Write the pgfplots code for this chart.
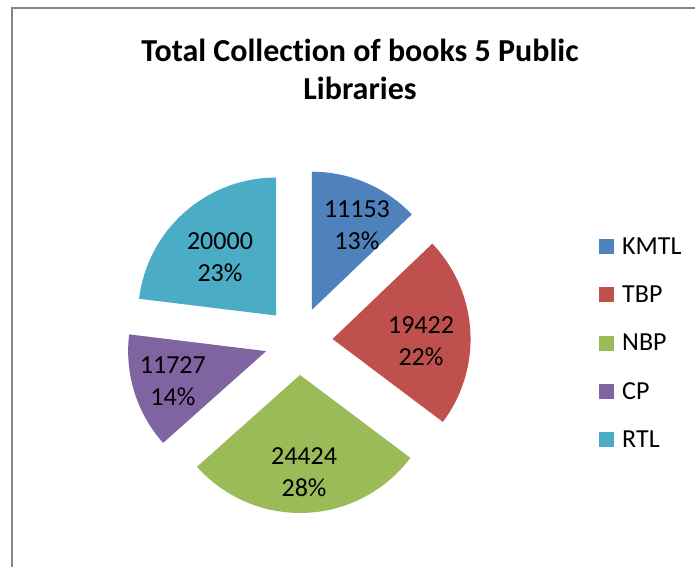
\documentclass[border=0pt]{standalone}
\usepackage{fontspec}
\setmainfont{Carlito}[Ligatures={NoCommon}]
\usepackage{pgfplots}
\usepackage{pgfplotstable}
\pgfplotsset{compat=1.18}

\definecolor{cKMTL}{HTML}{4F81BD}
\definecolor{cTBP}{HTML}{C0504D}
\definecolor{cNBP}{HTML}{9BBB59}
\definecolor{cCP}{HTML}{8064A2}
\definecolor{cRTL}{HTML}{4BACC6}
\definecolor{frame}{HTML}{868686}

\tikzset{lbl/.style={align=center, font=\fontsize{26}{32}\selectfont}}

\pgfplotstableread{
name value
KMTL 11153
TBP 19422
NBP 24424
CP 11727
RTL 20000
}\piedata

\newcommand\getval[2]{\pgfplotstablegetelem{#1}{value}\of\piedata\global\let#2\pgfplotsretval}

% pie geometry, in picture pixels
\def\cx{298.6}\def\cy{226}\def\r{138}\def\d{34}

% #1 start angle, #2 end angle, #3 colour
\newcommand\slice[3]{%
  \pgfmathsetmacro\m{(#1+#2)/2}%
  \pgfmathsetmacro\ax{\cx+\d*cos(\m)}%
  \pgfmathsetmacro\ay{\cy+\d*sin(\m)}%
  \edef\doit{\noexpand\addplot[fill=#3,draw=none,domain=#2:#1,samples=90,variable=\noexpand\t]
    ({\ax+\r*cos(\noexpand\t)},{\ay+\r*sin(\noexpand\t)}) -- (axis cs:\ax,\ay) -- cycle;}%
  \doit}

% #1 start, #2 end, #3 value, #4 distance from the slice tip, #5 angle shift
\newcommand\slicelabel[5]{%
  \pgfmathsetmacro\m{(#1+#2)/2}%
  \pgfmathsetmacro\lx{\cx+\d*cos(\m)+#4*cos(\m+#5)}%
  \pgfmathsetmacro\ly{\cy+\d*sin(\m)+#4*sin(\m+#5)}%
  \edef\pc{\the\numexpr100*#3/\tot\relax}%
  \edef\doit{\noexpand\node[lbl] at (axis cs:\lx,\ly) {#3\noexpand\\\pc\noexpand\%};}%
  \doit}

\begin{document}
\begin{tikzpicture}
\getval{0}\vA \getval{1}\vB \getval{2}\vC \getval{3}\vD \getval{4}\vE
\edef\tot{\the\numexpr\vA+\vB+\vC+\vD+\vE\relax}
% clockwise from the top, sizes in hundredths of a degree
\pgfmathsetmacro\sA{90}
\pgfmathsetmacro\eA{\sA-\the\numexpr36000*\vA/\tot\relax/100}
\pgfmathsetmacro\eB{\eA-\the\numexpr36000*\vB/\tot\relax/100}
\pgfmathsetmacro\eC{\eB-\the\numexpr36000*\vC/\tot\relax/100}
\pgfmathsetmacro\eD{\eC-\the\numexpr36000*\vD/\tot\relax/100}
\pgfmathsetmacro\eE{\eD-\the\numexpr36000*\vE/\tot\relax/100}
\begin{axis}[
    width=695pt, height=567pt, scale only axis,
    xmin=0, xmax=695, ymin=0, ymax=567,
    hide axis,
    area legend,
    legend image code/.code={\fill[#1] (0pt,-7.5pt) rectangle (15pt,7.5pt);},
    legend style={at={(axis cs:599,329.5)}, anchor=north west, draw=none, fill=none,
        inner sep=0pt, font=\fontsize{26}{26}\selectfont, row sep=30pt,
        nodes={inner sep=0pt},
        /tikz/every odd column/.append style={column sep=8pt}},
    legend cell align=left,
]
\slice{\sA}{\eA}{cKMTL}
\slice{\eA}{\eB}{cTBP}
\slice{\eB}{\eC}{cNBP}
\slice{\eC}{\eD}{cCP}
\slice{\eD}{\eE}{cRTL}
\legend{KMTL,TBP,NBP,CP,RTL}
\slicelabel{\sA}{\eA}{\vA}{96}{-4.8}
\slicelabel{\eA}{\eB}{\vB}{88.5}{-4.7}
\slicelabel{\eB}{\eC}{\vC}{97}{0}
\slicelabel{\eC}{\eD}{\vD}{98}{0.5}
\slicelabel{\eD}{\eE}{\vE}{81}{2.3}
\node[align=center, font=\bfseries\fontsize{32}{38}\selectfont] at (axis cs:360,498)
    {Total Collection of books 5 Public\\Libraries};
\draw[frame, line width=2pt] (axis cs:12,0) -- (axis cs:12,559) -- (axis cs:695,559);
\end{axis}
\pgfresetboundingbox
\path (current axis.south west) rectangle (current axis.north east);
\end{tikzpicture}
\end{document}
